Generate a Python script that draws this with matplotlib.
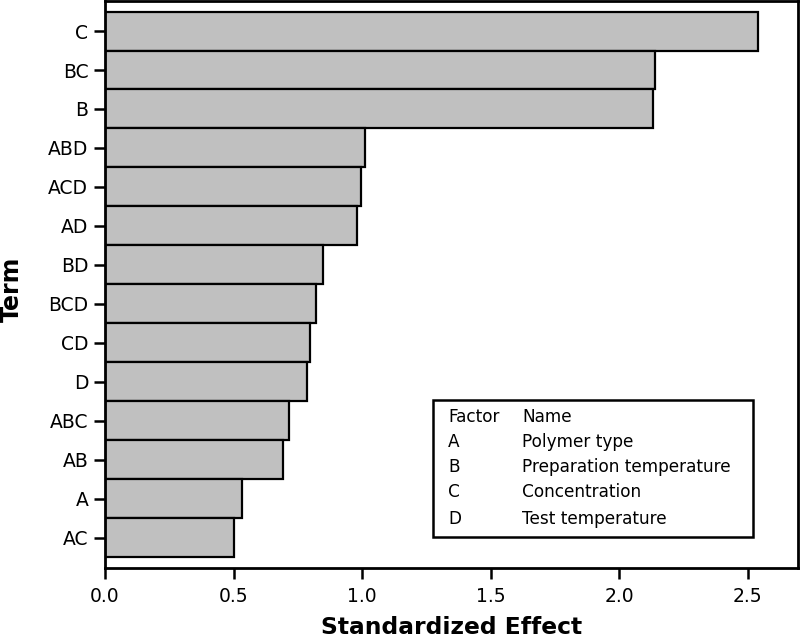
import matplotlib
matplotlib.use("Agg")
import matplotlib.pyplot as plt

# Pareto chart of standardized effects
terms = ['C', 'BC', 'B', 'ABD', 'ACD', 'AD', 'BD', 'BCD', 'CD', 'D', 'ABC', 'AB', 'A', 'AC']
effects = [2.541, 2.140, 2.131, 1.011, 0.994, 0.979, 0.847, 0.819, 0.797, 0.787, 0.714, 0.691, 0.534, 0.500]
xticks = [0.0, 0.5, 1.0, 1.5, 2.0, 2.5]

factors = ['A', 'B', 'C', 'D']
factor_names = ['Polymer type', 'Preparation temperature', 'Concentration', 'Test temperature']

plt.rcParams['font.family'] = ['DejaVu Sans']

fig = plt.figure(figsize=(8, 6.41), dpi=100)
ax = fig.add_axes([0.13125, 0.1144, 0.86625, 0.8840])

pos = list(range(len(terms)))[::-1]
ax.barh(pos, effects, height=1.0, color='#c0c0c0', edgecolor='black', linewidth=1.6)

ax.set_xlim(0, 2.695)
ax.set_ylim(-0.77, len(terms) - 0.23)
ax.set_yticks(pos)
ax.set_yticklabels(terms)
ax.set_xticks(xticks)
ax.set_xticklabels(['%.1f' % v for v in xticks])
ax.tick_params(axis='both', direction='out', length=8, width=1.8, labelsize=13.5)
ax.tick_params(axis='x', pad=6)
ax.tick_params(axis='y', pad=4)

for s in ax.spines.values():
    s.set_linewidth(2)

ax.set_xlabel('Standardized Effect', fontsize=16.8, fontweight='bold')
ax.set_ylabel('Term', fontsize=17, fontweight='bold')
ax.xaxis.set_label_coords(0.5, (567.7 - 616) / 567)
ax.yaxis.set_label_coords((24 - 105) / 693, (567.7 - 289) / 567)

# factor key box
trans = ax.transAxes
box_x0, box_y0 = (433 - 105) / 693, (567.7 - 536.7) / 567
box_w, box_h = (752.7 - 433) / 693, (536.7 - 400) / 567
ax.add_patch(plt.Rectangle((box_x0, box_y0), box_w, box_h, transform=trans,
                           fill=False, edgecolor='black', linewidth=1.8, zorder=5))
col1_x = (448 - 105) / 693
col2_x = (522 - 105) / 693
row_y = [416.7, 441.5, 466.5, 492, 519]
ax.text(col1_x, (567.7 - row_y[0]) / 567, 'Factor', transform=trans, fontsize=12.2, va='center')
ax.text(col2_x, (567.7 - row_y[0]) / 567, 'Name', transform=trans, fontsize=12.2, va='center')
for i, (f, n) in enumerate(zip(factors, factor_names)):
    y = (567.7 - row_y[i + 1]) / 567
    ax.text(col1_x, y, f, transform=trans, fontsize=12.2, va='center')
    ax.text(col2_x, y, n, transform=trans, fontsize=12.2, va='center')

fig.savefig('out.png', dpi=100)
